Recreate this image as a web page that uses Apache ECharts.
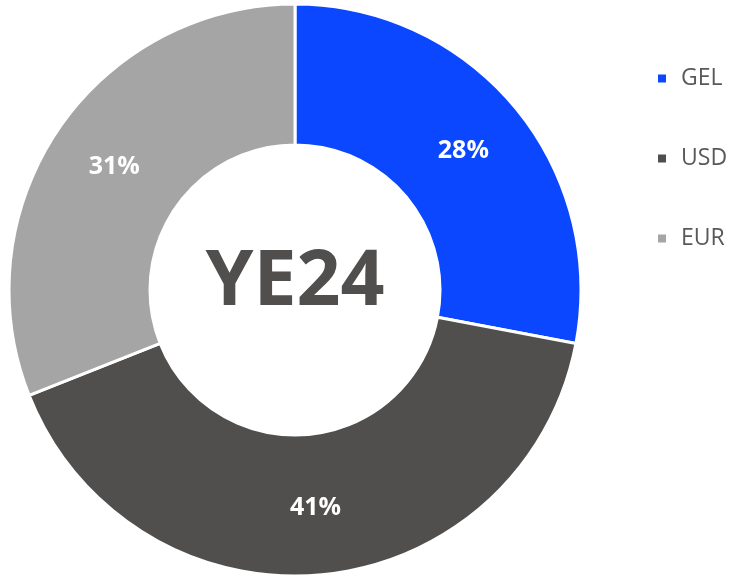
<!DOCTYPE html>
<html><head><meta charset="utf-8">
<script src="https://cdn.jsdelivr.net/npm/echarts@6/dist/echarts.min.js"></script>
<style>html,body{margin:0;padding:0;background:#fff}#c{width:743px;height:577px}</style>
</head><body><div id="c"></div>
<script>
const categories = ['GEL', 'USD', 'EUR'];
const values = [28, 41, 31];
const colors = ['#0A47FF', '#504F4E', '#A5A5A5'];
const centerText = 'YE24';

const chart = echarts.init(document.getElementById('c'));
chart.setOption({
  animation: false,
  color: colors,
  title: {
    text: centerText,
    left: 290, top: 278, textAlign: 'center', textVerticalAlign: 'middle',
    textStyle: {fontFamily: 'Open Sans', fontWeight: 'bold', fontSize: 77, color: '#504F4E'}
  },
  legend: {
    orient: 'vertical', left: 651, top: 62, itemWidth: 10, itemHeight: 10, itemGap: 57,
    icon: 'rect',
    textStyle: {fontFamily: 'Open Sans', fontSize: 23, color: '#595959', padding: [0,0,0,9]},
    data: categories
  },
  series: [{
    type: 'pie',
    center: [295, 290],
    radius: [145, 286],
    startAngle: 90,
    clockwise: true,
    itemStyle: {borderColor: '#fff', borderWidth: 3},
    label: {
      position: 'inside', formatter: '{d}%', color: '#fff',
      fontFamily: 'Open Sans', fontWeight: 'bold', fontSize: 25
    },
    labelLine: {show: false},
    data: categories.map((c, i) => ({name: c, value: values[i]}))
  }]
});
</script></body></html>
